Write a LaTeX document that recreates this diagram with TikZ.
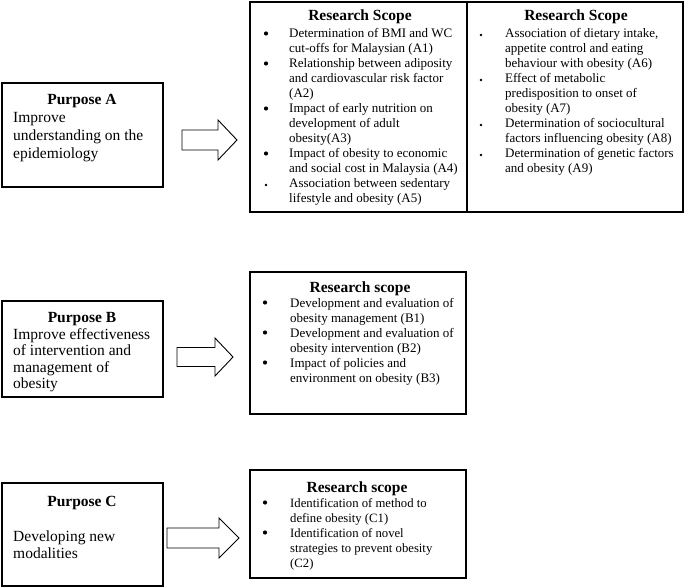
\documentclass[tikz,border=0pt]{standalone}
\usepackage{fontspec}
\setmainfont{Liberation Serif}
\usetikzlibrary{calc}
\newcommand\BoxAt[5]{% name, x1, y1, x2, y2
  \node[box, minimum width={(#4-#2)*1pt}, minimum height={(#5-#3)*1pt}] (#1) at ({(#2+#4)/2},{(#3+#5)/2}) {};}
\newcommand\TextLines[6]{% prefix, x, y0, spacing, style, list
  \foreach \t [count=\i from 0] in {#6} {\node[#5] (#1-\i) at (#2,{#3+#4*\i}) {\t};}}
\newcommand\BlockArrow[7]{% x0, xbase, xtip, ymid, half body, half head, name
  \draw[barrow] (#1,#4-#5) -- (#2,#4-#5) -- (#2,#4-#6) -- (#3,#4) -- (#2,#4+#6) -- (#2,#4+#5) -- (#1,#4+#5) -- cycle;
  \coordinate (#7) at (#3,#4);}
\begin{document}
\begin{tikzpicture}[x=1pt,y=-1pt,
  box/.style={draw, line width=2.4pt, inner sep=0pt, fill=none},
  div/.style={line width=2.4pt},
  body/.style={font=\fontsize{13}{15}\selectfont, anchor=base west, inner sep=0pt},
  bodyc/.style={font=\fontsize{12.7}{15}\selectfont, anchor=base west, inner sep=0pt},
  ttl/.style={font=\bfseries\fontsize{15.5}{18}\selectfont, anchor=base, inner sep=0pt},
  ptxt/.style={font=\fontsize{15.5}{18}\selectfont, anchor=base west, inner sep=0pt},
  bul/.style={circle, fill=black, inner sep=0pt, minimum size=4.2pt},
  sbul/.style={circle, fill=black, inner sep=0pt, minimum size=2.6pt},
  barrow/.style={draw, line width=0.9pt, fill=white, line join=miter}]
\useasboundingbox (0,0) rectangle (685,588);
\fill[white] (0,0) rectangle (685,588);

% ---------- Purpose A ----------
\BoxAt{pa}{2}{83}{163}{187}
\node[ttl] (pa-t) at (82,105) {Purpose A};
\TextLines{pa-l}{13}{123}{18}{ptxt}{Improve,understanding on the,epidemiology}

\BlockArrow{182}{218}{237}{140}{10}{20}{arrA}

% ---------- Research scope A ----------
\BoxAt{ra}{250}{2}{683}{212}
\draw[div] (467,0 |- ra.north) -- (467,0 |- ra.south);
\node[ttl] (ra-t1) at (360,21) {Research Scope};
\node[ttl] (ra-t2) at (576,21) {Research Scope};
\TextLines{ra-l}{289}{38}{15}{body}{Determination of BMI and WC,cut-offs for Malaysian (A1),Relationship between adiposity,and cardiovascular risk factor,(A2),Impact of early nutrition on,development of adult,obesity(A3),Impact of obesity to economic,and social cost in Malaysia (A4),Association between sedentary,lifestyle and obesity (A5)}
\foreach \y [count=\i] in {38,68,113,158} {\node[bul] (ra-b\i) at (266,\y-4.5) {};}
\node[sbul] (ra-b5) at (266,188-3) {};
\TextLines{rb-l}{505}{38}{15}{body}{{Association of dietary intake,},appetite control and eating,behaviour with obesity (A6),Effect of metabolic,predisposition to onset of,obesity (A7),Determination of sociocultural,factors influencing obesity (A8),Determination of genetic factors,and obesity (A9)}
\foreach \y [count=\i] in {38,83,128,158} {\node[sbul] (rb-b\i) at (481,\y-3) {};}

% ---------- Purpose B ----------
\BoxAt{pb}{2}{301}{163}{397}
\node[ttl] (pb-t) at (82,322) {Purpose B};
\TextLines{pb-l}{13}{339}{16.5}{ptxt}{Improve effectiveness,of intervention and,management of,obesity}

\BlockArrow{177}{215}{233}{357}{9.5}{19}{arrB}

% ---------- Research scope B ----------
\BoxAt{rsb}{250}{272}{466}{414}
\node[ttl] (rsb-t) at (360,292) {Research scope};
\TextLines{rsb-l}{290}{307}{15}{body}{Development and evaluation of,obesity management (B1),Development and evaluation of,obesity intervention (B2),Impact of policies and,environment on obesity (B3)}
\foreach \y [count=\i] in {307,337,367} {\node[bul] (rsb-b\i) at (265,\y-4.5) {};}

% ---------- Purpose C ----------
\BoxAt{pc}{2}{483}{163}{586}
\node[ttl] (pc-t) at (82,506) {Purpose C};
\TextLines{pc-l}{13}{541}{17}{ptxt}{Developing new,modalities}

\BlockArrow{167}{219}{239}{538}{10}{20}{arrC}

% ---------- Research scope C ----------
\BoxAt{rsc}{250}{470}{466}{578}
\node[ttl] (rsc-t) at (357,492) {Research scope};
\TextLines{rsc-l}{290}{507}{15}{bodyc}{Identification of method to,define obesity (C1),Identification of novel,strategies to prevent obesity,(C2)}
\foreach \y [count=\i] in {507,537} {\node[bul] (rsc-b\i) at (265,\y-4.5) {};}
\end{tikzpicture}
\end{document}
